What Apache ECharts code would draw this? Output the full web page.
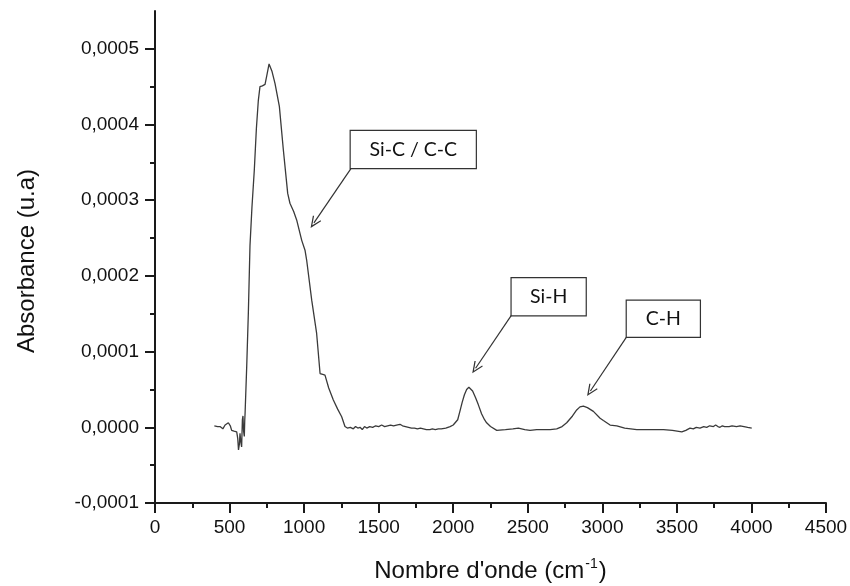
<!DOCTYPE html>
<html>
<head>
<meta charset="utf-8">
<script src="https://cdn.jsdelivr.net/npm/echarts@6/dist/echarts.min.js"></script>
<style>
html,body{margin:0;padding:0;background:#fff;}
#chart{width:850px;height:586px;}
</style>
</head>
<body>
<div id="chart"></div>
<script>
// ---- Data ----
const wavenumber = [
  398,410,420,436,455,462,470,482,492,505,514,530,548,555,560,566,570,576,581,586,590,594,599,602,604,
  615,626,637,650,666,680,693,704,720,738,750,765,773,785,805,834,861,890,905,930,950,984,1006,1017,
  1051,1084,1107,1125,1140,1165,1196,1225,1252,1274,1290,1310,1330,1345,1360,1375,1390,1405,1420,1440,
  1460,1480,1500,1520,1540,1560,1580,1600,1620,1643,1660,1680,1700,1720,1740,1760,1780,1800,1820,1844,
  1860,1880,1900,1920,1950,1979,2000,2012,2030,2046,2060,2075,2090,2105,2115,2130,2150,2168,2190,2210,
  2224,2250,2292,2350,2400,2437,2480,2515,2560,2600,2650,2694,2730,2761,2800,2828,2850,2873,2900,2940,
  2985,3007,3052,3097,3150,3231,3300,3360,3410,3470,3533,3560,3588,3610,3630,3655,3680,3700,3720,3745,
  3760,3775,3789,3805,3820,3833,3850,3870,3900,3924,3950,3975,4002
];
const absorbance = [
  0.02e-4,0.02e-4,0.01e-4,0.01e-4,-0.02e-4,-0.01e-4,0.03e-4,0.04e-4,0.06e-4,0.02e-4,-0.04e-4,-0.05e-4,-0.06e-4,-0.15e-4,-0.30e-4,-0.22e-4,-0.08e-4,-0.20e-4,-0.26e-4,0.10e-4,0.15e-4,-0.05e-4,-0.12e-4,0.10e-4,0.18e-4,
  0.80e-4,1.51e-4,2.40e-4,2.90e-4,3.40e-4,3.95e-4,4.32e-4,4.50e-4,4.51e-4,4.53e-4,4.65e-4,4.80e-4,4.81e-4,4.70e-4,4.54e-4,4.24e-4,3.66e-4,3.09e-4,2.96e-4,2.85e-4,2.74e-4,2.47e-4,2.34e-4,2.21e-4,
  1.68e-4,1.24e-4,0.71e-4,0.70e-4,0.69e-4,0.52e-4,0.36e-4,0.24e-4,0.14e-4,0.01e-4,-0.01e-4,0.00e-4,-0.02e-4,0.01e-4,-0.01e-4,0.00e-4,-0.03e-4,0.01e-4,-0.01e-4,0.01e-4,
  0.00e-4,0.02e-4,0.01e-4,0.03e-4,0.01e-4,0.02e-4,0.03e-4,0.02e-4,0.03e-4,0.04e-4,0.02e-4,0.01e-4,0.00e-4,-0.01e-4,-0.01e-4,-0.02e-4,-0.01e-4,-0.02e-4,-0.03e-4,-0.03e-4,
  -0.02e-4,-0.03e-4,-0.02e-4,-0.02e-4,-0.01e-4,0.01e-4,0.03e-4,0.05e-4,0.10e-4,0.22e-4,0.33e-4,0.43e-4,0.50e-4,0.53e-4,0.53e-4,0.48e-4,0.39e-4,0.30e-4,0.18e-4,0.10e-4,
  0.06e-4,0.01e-4,-0.04e-4,-0.03e-4,-0.02e-4,-0.01e-4,-0.03e-4,-0.04e-4,-0.03e-4,-0.03e-4,-0.03e-4,-0.02e-4,0.01e-4,0.06e-4,0.15e-4,0.23e-4,0.27e-4,0.28e-4,0.26e-4,0.21e-4,
  0.12e-4,0.09e-4,0.03e-4,0.02e-4,-0.01e-4,-0.03e-4,-0.03e-4,-0.03e-4,-0.03e-4,-0.04e-4,-0.06e-4,-0.04e-4,-0.01e-4,-0.02e-4,0.00e-4,-0.01e-4,0.01e-4,0.00e-4,0.02e-4,0.01e-4,
  0.03e-4,0.01e-4,0.00e-4,0.02e-4,0.01e-4,0.03e-4,0.01e-4,0.02e-4,0.01e-4,0.02e-4,0.01e-4,0.00e-4,-0.01e-4
];
const xTicks = [0,500,1000,1500,2000,2500,3000,3500,4000,4500];
const yTicks = [-0.0001,0,0.0001,0.0002,0.0003,0.0004,0.0005];
const yMinorTicks = [-0.00005,0.00005,0.00015,0.00025,0.00035,0.00045];
const annotationLabels = ['Si-C / C-C','Si-H','C-H'];
const boxCenters = [[1732,3.67e-4],[2640,1.725e-4],[3409,1.435e-4]];
const arrowStarts = [[1315,3.42e-4],[2392,1.485e-4],[3164,1.197e-4]];
const arrowTips = [[1066,2.70e-4],[2150,0.78e-4],[2920,0.48e-4]];

// ---- Build ----
const boxSizes = [[125,37],[74,37],[73,36]];
const spectrum = wavenumber.map((w,i)=>[w, absorbance[i]]);
const fmtY = v => (Math.abs(v) < 1e-12 ? 0 : v).toFixed(4).replace('.', ',');
const axisColor = '#1a1a1a';
const textColor = '#111';
const font = "'Liberation Sans', Arial, sans-serif";
const boxFont = "Lato, Carlito, Calibri, sans-serif";

const chart = echarts.init(document.getElementById('chart'), null, {renderer:'canvas'});
chart.setOption({
  animation:false,
  backgroundColor:'#fff',
  grid:{left:155, right:24, top:11, bottom:83, containLabel:false, outerBoundsMode:'none'},
  xAxis:{
    type:'value', min:xTicks[0], max:xTicks[xTicks.length-1], interval:500,
    name:"Nombre d'onde (cm{sup|-1})",
    nameLocation:'middle', nameGap:54,
    nameTextStyle:{fontSize:24, color:textColor, fontFamily:font,
      rich:{sup:{fontSize:14, color:textColor, fontFamily:font, verticalAlign:'top', padding:[0,1,14,1]}}},
    axisLine:{show:true, onZero:false, lineStyle:{color:axisColor, width:2}},
    axisTick:{show:true, inside:false, length:10, lineStyle:{color:axisColor, width:2}},
    minorTick:{show:true, splitNumber:2, length:5, lineStyle:{color:axisColor, width:2}},
    axisLabel:{fontSize:19, color:textColor, fontFamily:font, margin:15, formatter:v=>String(v)},
    splitLine:{show:false}, minorSplitLine:{show:false}
  },
  yAxis:[{
    type:'value', min:-0.0001, max:0.00055,
    name:'Absorbance (u.a)', nameLocation:'middle', nameRotate:90, nameGap:116,
    nameTextStyle:{fontSize:24, color:textColor, fontFamily:font, padding:[0,0,0,-8]},
    axisLine:{show:true, onZero:false, lineStyle:{color:axisColor, width:2}},
    axisTick:{show:true, inside:false, length:10, customValues:yTicks, lineStyle:{color:axisColor, width:2}},
    axisLabel:{fontSize:19, color:textColor, fontFamily:font, margin:16, customValues:yTicks, formatter:fmtY},
    splitLine:{show:false}
  },{
    type:'value', min:-0.0001, max:0.00055, position:'left',
    axisLine:{show:false},
    axisTick:{show:true, inside:false, length:5, customValues:yMinorTicks, lineStyle:{color:axisColor, width:2}},
    axisLabel:{show:false},
    splitLine:{show:false}
  }],
  series:[{
    type:'line', data:spectrum, showSymbol:false, symbol:'none', smooth:false,
    lineStyle:{color:'#3a3a3a', width:1.3},
    silent:true, emphasis:{disabled:true},
    markLine:{
      silent:true, animation:false,
      symbol:['none','path://M5,0 L10,11 L8.9,11.6 L5,3 L1.1,11.6 L0,11 Z'],
      symbolSize:[10,12],
      lineStyle:{color:'#333', width:1.2, type:'solid'},
      label:{show:false},
      emphasis:{disabled:true},
      data: arrowStarts.map((s,i)=>[{coord:s},{coord:arrowTips[i]}])
    },
    markPoint:{
      silent:true, animation:false,
      symbol:'circle', symbolSize:0,
      itemStyle:{color:'transparent'},
      emphasis:{disabled:true},
      data: annotationLabels.map((t,i)=>({
        name:t, coord:boxCenters[i],
        label:{show:true, position:'inside', formatter:t,
          color:textColor, fontSize:19.5, fontFamily:boxFont,
          backgroundColor:'#fff', borderColor:'#333', borderWidth:1.2, padding:0,
          width:boxSizes[i][0], height:boxSizes[i][1], lineHeight:boxSizes[i][1],
          align:'center', verticalAlign:'middle'}
      }))
    }
  }]
});
</script>
</body>
</html>
